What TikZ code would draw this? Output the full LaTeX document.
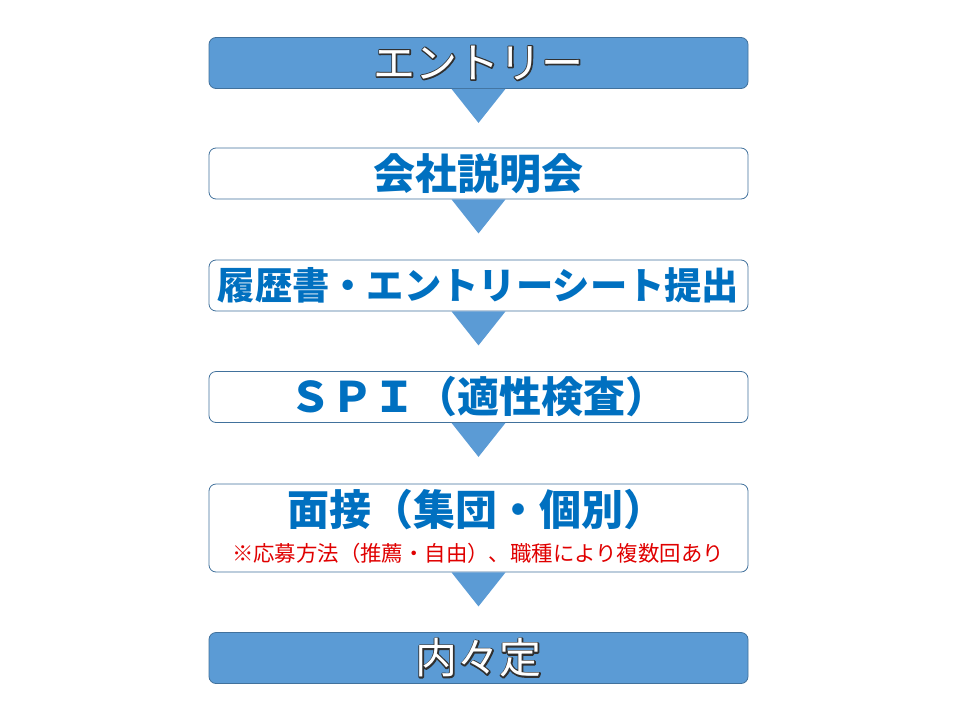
\documentclass[tikz,border=0pt]{standalone}
\usepackage{fontspec}
\setmainfont{Noto Sans CJK JP}
\usetikzlibrary{calc}
\definecolor{boxblue}{HTML}{5B9BD5}
\definecolor{edgeblue}{HTML}{41719C}
\definecolor{textblue}{HTML}{0070C0}
\definecolor{notered}{HTML}{E00000}
% white letters over a dark stroked copy
\newcommand{\rimmed}[1]{\rlap{\special{pdf:code q 0.19 0.19 0.19 RG 2.6 w 1 j 1 Tr}#1\special{pdf:code 0 Tr Q}}#1}

\begin{document}
\begin{tikzpicture}[x=1pt,y=-1pt]
	\tikzset{flowbox/.style={draw=edgeblue,line width=0.8pt,rounded corners=7pt,minimum width=539pt,minimum height=51pt,inner sep=0pt},
		filledbox/.style={flowbox,fill=boxblue},
		plainbox/.style={flowbox,fill=white},
		bluetext/.style={text=textblue,font=\bfseries\fontsize{42}{42}\selectfont,inner sep=0pt},
		whitetext/.style={text=white,font=\fontsize{42}{42}\selectfont,inner sep=0pt}}
	\useasboundingbox (0,0) rectangle (960,720);
	
	\node (entry) at (478.5,63) [filledbox]{};
	\node (briefing) at (478.5,173.5) [plainbox]{};
	\node (sheet) at (478.5,285.5) [plainbox]{};
	\node (spi) at (478.5,397) [plainbox]{};
	\node (interview) at (478.5,528) [plainbox,minimum height=88pt]{};
	\node (naitei) at (478.5,658) [filledbox]{};
	
	\node at (entry) [whitetext]{\rimmed{エントリー}};
	\node at (naitei) [whitetext]{\rimmed{内々定}};
	\node at (briefing) [bluetext]{会社説明会};
	\node at (sheet) [bluetext,font=\bfseries\fontsize{37.3}{37.3}\selectfont]{履歴書・エントリーシート提出};
	\node at (spi) [bluetext]{ＳＰＩ（適性検査）};
	\node (interview title) at (476,510) [bluetext]{面接（集団・個別）};
	\node (interview note) at (478,553) [text=notered,font=\fontsize{21.4}{21.4}\selectfont]{※応募方法（推薦・自由）、職種により複数回あり};
	
	\foreach \a in {entry,briefing,sheet,spi,interview}
	\fill[boxblue] ($(\a.south)+(-27,0)$) -- ($(\a.south)+(27,0)$) -- ($(\a.south)+(0,34)$) -- cycle;
\end{tikzpicture}
\end{document}
